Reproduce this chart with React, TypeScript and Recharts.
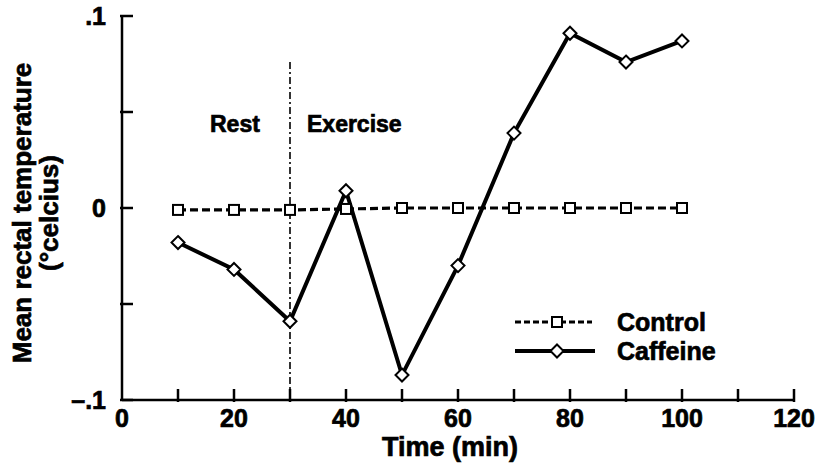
import { Line, LineChart, ReferenceLine, XAxis, YAxis } from 'recharts'

const times = [10, 20, 30, 40, 50, 60, 70, 80, 90, 100]
const control = [-0.001, -0.001, -0.001, -0.0005, 0, 0, 0, 0, 0, 0]
const caffeine = [-0.018, -0.032, -0.059, 0.009, -0.087, -0.03, 0.039, 0.091, 0.076, 0.087]

const xTicks = [0, 10, 20, 30, 40, 50, 60, 70, 80, 90, 100, 110, 120]
const yTicks = [-0.1, -0.05, 0, 0.05, 0.1]
const yTickLabels: Record<string, string> = { '0.1': '.1', '0': '0', '-0.1': '–.1' }

const exerciseStart = 30
const markerTop = 0.076

const data = times.map((t, i) => ({ time: t, control: control[i], caffeine: caffeine[i] }))

const FONT = '"Liberation Sans", Arial, Helvetica, sans-serif'
const INK = '#000'

// scanned print is heavy, so thicken the bold glyphs a little
const textProps = {
  fontFamily: FONT,
  fontWeight: 'bold' as const,
  fill: INK,
  stroke: INK,
  strokeWidth: 0.7,
}

function XTick({ x, y, payload }: any) {
  const v = payload.value
  return (
    <g>
      {v > 0 && <line x1={x} x2={x} y1={y} y2={y - 13} stroke={INK} strokeWidth={2.5} />}
      {v % 20 === 0 && (
        <text x={x} y={y + 25} textAnchor="middle" fontSize={25} {...textProps}>
          {v}
        </text>
      )}
    </g>
  )
}

function YTick({ x, y, payload }: any) {
  const label = yTickLabels[String(payload.value)]
  return (
    <g>
      <line x1={x} x2={x + 13} y1={y} y2={y} stroke={INK} strokeWidth={2.5} />
      {label && (
        <text x={x - 14} y={y + 9} textAnchor="end" fontSize={25} {...textProps}>
          {label}
        </text>
      )}
    </g>
  )
}

function SquareDot({ cx, cy, index }: any) {
  return <rect key={`s${index}`} x={cx - 5} y={cy - 5} width={10} height={10} fill="#fff" stroke={INK} strokeWidth={2} />
}

function DiamondDot({ cx, cy, index }: any) {
  const r = 6.5
  return (
    <polygon
      key={`d${index}`}
      points={`${cx},${cy - r} ${cx + r},${cy} ${cx},${cy + r} ${cx - r},${cy}`}
      fill="#fff"
      stroke={INK}
      strokeWidth={2}
    />
  )
}

export default function App() {
  return (
    <div style={{ position: 'absolute', left: 0, top: 0, background: '#fff' }}>
      <LineChart width={823} height={464} data={data} margin={{ top: 16, right: 29, bottom: 34, left: 62 }}>
        <XAxis
          dataKey="time"
          type="number"
          domain={[0, 120]}
          ticks={xTicks}
          height={30}
          tickSize={0}
          tickLine={false}
          axisLine={{ stroke: INK, strokeWidth: 2.5 }}
          tick={<XTick />}
          interval={0}
        />
        <YAxis
          type="number"
          domain={[-0.1, 0.1]}
          ticks={yTicks}
          width={60}
          tickSize={0}
          tickLine={false}
          axisLine={{ stroke: INK, strokeWidth: 2.5 }}
          tick={<YTick />}
          interval={0}
        />
        <ReferenceLine
          segment={[
            { x: exerciseStart, y: markerTop },
            { x: exerciseStart, y: -0.1 },
          ]}
          stroke={INK}
          strokeWidth={1.6}
          strokeDasharray="7 3 2 3"
        />
        <Line
          type="linear"
          dataKey="control"
          stroke={INK}
          strokeWidth={3.2}
          strokeDasharray="8 4"
          dot={<SquareDot />}
          activeDot={false}
          isAnimationActive={false}
        />
        <Line
          type="linear"
          dataKey="caffeine"
          stroke={INK}
          strokeWidth={4}
          dot={<DiamondDot />}
          activeDot={false}
          isAnimationActive={false}
        />

        {/* phase labels */}
        <text x={210} y={132} fontSize={23} {...textProps}>Rest</text>
        <text x={307} y={132} fontSize={23} {...textProps}>Exercise</text>

        {/* legend */}
        <line x1={515} x2={592} y1={322} y2={322} stroke={INK} strokeWidth={3.2} strokeDasharray="6 3" />
        <rect x={552} y={317} width={10} height={10} fill="#fff" stroke={INK} strokeWidth={2} />
        <text x={617} y={331} fontSize={25} {...textProps}>Control</text>
        <line x1={515} x2={595} y1={351} y2={351} stroke={INK} strokeWidth={4} />
        <polygon points="557,344.5 563.5,351 557,357.5 550.5,351" fill="#fff" stroke={INK} strokeWidth={2} />
        <text x={617} y={360} fontSize={25} {...textProps}>Caffeine</text>

        {/* axis titles */}
        <text x={31} y={213} transform="rotate(-90, 31, 213)" textAnchor="middle" fontSize={26} {...textProps}>
          Mean rectal temperature
        </text>
        <text x={58} y={213} transform="rotate(-90, 58, 213)" textAnchor="middle" fontSize={26} {...textProps}>
          (°celcius)
        </text>
        <text x={450} y={456} textAnchor="middle" fontSize={27} {...textProps}>
          Time (min)
        </text>
      </LineChart>
    </div>
  )
}
